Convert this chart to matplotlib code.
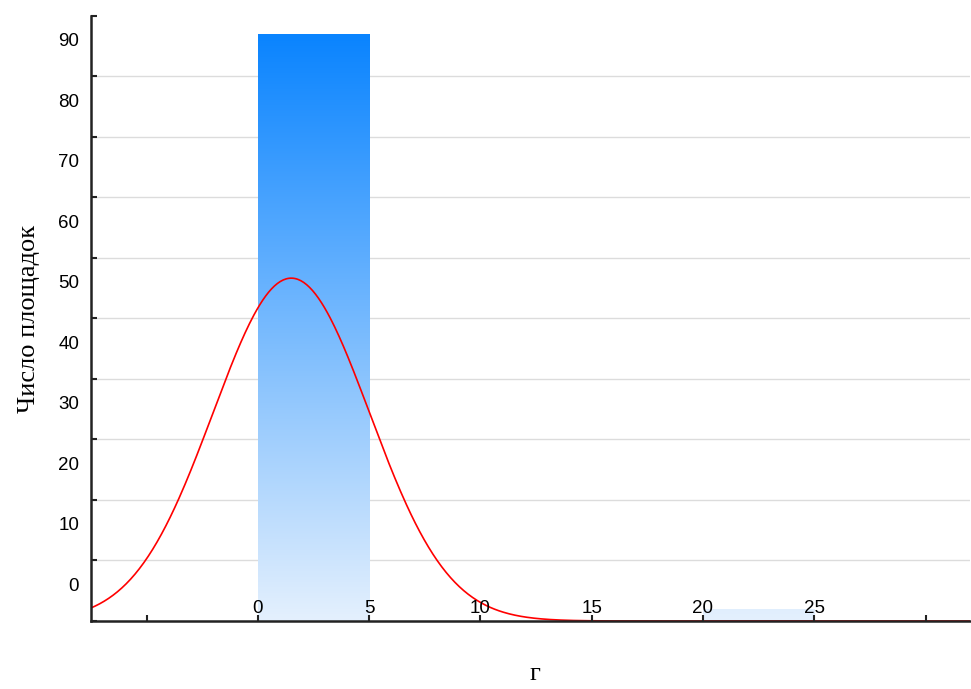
import numpy as np
import matplotlib
matplotlib.use('Agg')
import matplotlib.pyplot as plt
from matplotlib.colors import LinearSegmentedColormap

# данные гистограммы: левая граница интервала, ширина, число площадок
bin_left = [0, 20]
bin_width = 5
counts = [97, 2]

# параметры нормальной кривой (подгонка)
fit_n = 100
fit_mean = 1.5
fit_sd = 3.52

# подписи осей
x_label_vals = [0, 5, 10, 15, 20, 25]
y_label_vals = [0, 10, 20, 30, 40, 50, 60, 70, 80, 90]
y_label_shift = 6.1  # подписи оси Y смещены относительно делений, как на оригинале

plt.rcParams['font.family'] = ['Liberation Sans', 'DejaVu Sans']

fig = plt.figure(figsize=(9.71, 6.89), dpi=100)
ax = fig.add_axes([0.0937, 0.0987, 0.9053, 0.8781])

xlim = (-7.5, 32)
ylim = (0, 100)

# градиент для столбцов
cmap = LinearSegmentedColormap.from_list('bar_grad', ['#e4f0fd', '#0a84ff'])
grad = np.linspace(0, 1, 256).reshape(-1, 1)

bars = ax.bar(bin_left, counts, width=bin_width, align='edge', color='none', linewidth=0, zorder=2)
for b in bars:
    im = ax.imshow(grad, cmap=cmap, origin='lower', aspect='auto',
                   extent=(xlim[0], xlim[1], 0, 97), zorder=2)
    im.set_clip_path(b)

# нормальная кривая
xs = np.linspace(xlim[0], xlim[1], 600)
ys = fit_n * bin_width / (fit_sd * np.sqrt(2 * np.pi)) * np.exp(-(xs - fit_mean) ** 2 / (2 * fit_sd ** 2))
ax.plot(xs, ys, color='#ff0000', linewidth=1.2, zorder=3)

ax.set_xlim(xlim)
ax.set_ylim(ylim)

# ось Y: деления и сетка
ax.set_yticks(np.arange(0, 101, 10))
ax.set_yticklabels([])
ax.set_yticks(np.array(y_label_vals) + y_label_shift, minor=True)
ax.set_yticklabels([str(v) for v in y_label_vals], minor=True, fontsize=13.5)
ax.tick_params(axis='y', which='major', direction='in', length=4, width=1.5, color='#222222')
ax.tick_params(axis='y', which='minor', length=0, pad=8.5)
ax.grid(axis='y', which='major', color='#dcdcdc', linewidth=1)
ax.yaxis.set_zorder(0.5)
yt = ax.yaxis.get_major_ticks()
yt[0].gridline.set_visible(False)
yt[-1].gridline.set_visible(False)

# ось X: деления внутрь, подписи над осью
ax.set_xticks(np.arange(-5, 31, 5))
ax.set_xticklabels([str(v) if v in x_label_vals else '' for v in range(-5, 31, 5)], fontsize=13.5)
ax.tick_params(axis='x', direction='in', length=4, width=1.5, color='#222222', pad=-15)
ax.xaxis.set_zorder(5)

for s in ['top', 'right']:
    ax.spines[s].set_visible(False)
for s in ['left', 'bottom']:
    ax.spines[s].set_linewidth(1.8)
    ax.spines[s].set_color('#222222')
    ax.spines[s].set_zorder(5)

ax.set_ylabel('Число площадок', family=['Liberation Serif', 'DejaVu Serif'], fontsize=19)
ax.yaxis.set_label_coords(-0.058, 0.5)
ax.set_xlabel('г', family=['Liberation Serif', 'DejaVu Serif'], fontsize=19)
ax.xaxis.set_label_coords(0.505, -0.087)
ax.xaxis.label.set_verticalalignment('center')

fig.savefig('out.png', dpi=100)
